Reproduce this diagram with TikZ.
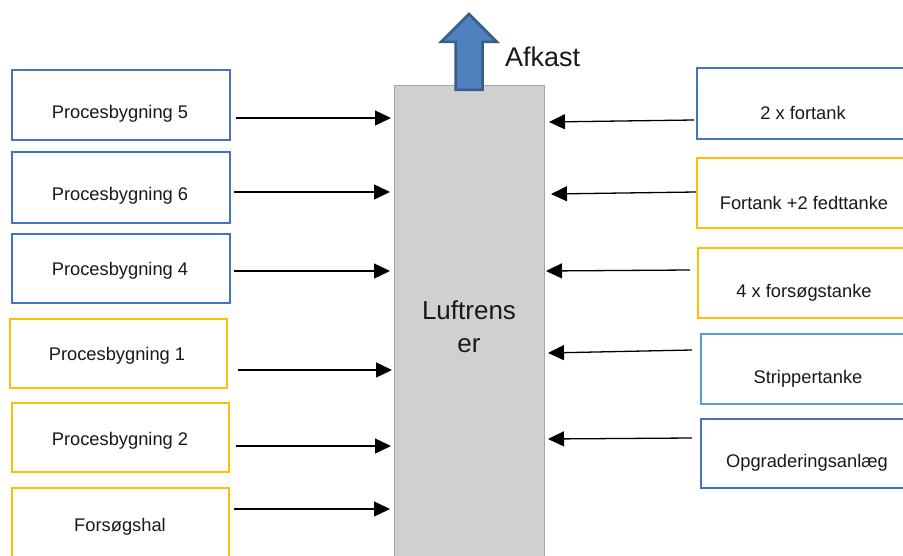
\documentclass[tikz,border=0pt]{standalone}
\usepackage{fontspec}
\setmainfont{Liberation Sans}
\usetikzlibrary{arrows.meta}
\definecolor{bblue}{HTML}{4472C4}
\definecolor{byel}{HTML}{FFC000}
\definecolor{lblue}{HTML}{5B9BD5}
\definecolor{lgray}{HTML}{D0D0D0}
\definecolor{dgray}{HTML}{A6A6A6}
\definecolor{afill}{HTML}{4F81BD}
\definecolor{aline}{HTML}{385D8A}
\tikzset{
  bx/.style={draw, line width=2pt, fill=white, anchor=north west, inner sep=0pt},
  lbl/.style={font=\fontsize{18.3}{21}\selectfont, inner sep=0pt, text=black!90},
  arr/.style={line width=1.3pt, -{Triangle[length=16pt,width=15pt]}},
}
\begin{document}
\begin{tikzpicture}[x=1pt,y=-1pt]
\useasboundingbox (0,0) rectangle (903,556);
\clip (0,0) rectangle (903,556);
% central box
\node[draw=dgray, fill=lgray, line width=1pt, anchor=north west, minimum width=150pt, minimum height=480pt, inner sep=0pt] (luft) at (394,85) {};
\node[font=\fontsize{26}{33}\selectfont, align=center, inner sep=0pt, text=black!90] (lt) at (469,327) {Luftrens\\er};
% up arrow
\draw[line width=2.5pt, draw=aline, fill=afill, line join=miter]
  (455.5,90) -- (455.5,42) -- (441,42) -- (469,14) -- (497,42) -- (482.5,42) -- (482.5,90) -- cycle;
\node[font=\fontsize{27}{30}\selectfont, anchor=west, inner sep=0pt, text=black!90] (afk) at (505,57) {Afkast};
% left boxes
\node[bx, draw=bblue, minimum width=218pt, minimum height=70pt] (p5) at (11,69) {};
\node[lbl] (t5) at (120,114) {Procesbygning 5};
\node[bx, draw=bblue, minimum width=218pt, minimum height=71pt] (p6) at (11,151) {};
\node[lbl] (t6) at (120,196) {Procesbygning 6};
\node[bx, draw=bblue, minimum width=218pt, minimum height=69pt] (p4) at (11,233) {};
\node[lbl] (t4) at (120,271) {Procesbygning 4};
\node[bx, draw=byel, minimum width=217pt, minimum height=69pt] (p1) at (9,318) {};
\node[lbl] (t1) at (117,356) {Procesbygning 1};
\node[bx, draw=byel, minimum width=217pt, minimum height=69pt] (p2) at (11,402) {};
\node[lbl] (t2) at (120,441) {Procesbygning 2};
\node[bx, draw=byel, minimum width=217pt, minimum height=90pt] (fh) at (11,487) {};
\node[lbl] (tf) at (120,527) {Forsøgshal};
% right boxes
\node[bx, draw=bblue, minimum width=230pt, minimum height=71pt] (r1) at (696,67) {};
\node[lbl] (s1) at (803,113) {2 x fortank};
\node[bx, draw=byel, minimum width=230pt, minimum height=70pt] (r2) at (696,157) {};
\node[lbl] (s2) at (804,203) {Fortank +2 fedttanke};
\node[bx, draw=byel, minimum width=230pt, minimum height=70pt] (r3) at (697,247) {};
\node[lbl] (s3) at (804,293) {4 x forsøgstanke};
\node[bx, draw=lblue, minimum width=230pt, minimum height=70pt] (r4) at (700,333) {};
\node[lbl] (s4) at (808,379) {Strippertanke};
\node[bx, draw=bblue, minimum width=230pt, minimum height=69pt] (r5) at (700,418) {};
\node[lbl] (s5) at (807,463) {Opgraderingsanlæg};
% left arrows
\draw[arr] ([shift={(5,13)}]p5.east) -- ([shift={(-3,13)}]p5.east -| luft.west);
\draw[arr] ([shift={(3,4.5)}]p6.east) -- ([shift={(-4,4.5)}]p6.east -| luft.west);
\draw[arr] ([shift={(3,2.5)}]p4.east) -- ([shift={(-4,2.5)}]p4.east -| luft.west);
\draw[arr] ([shift={(10,16.5)}]p1.east) -- ([shift={(-2,16.5)}]p1.east -| luft.west);
\draw[arr] ([shift={(6,8.5)}]p2.east) -- ([shift={(-3,8.5)}]p2.east -| luft.west);
\draw[arr] ([shift={(4,22)}]fh.north east) -- ([shift={(-4,22)}]fh.north east -| luft.west);
% right arrows
\draw[arr] ([shift={(-2,16.5)}]r1.west) -- ([shift={(4,18.5)}]r1.west -| luft.east);
\draw[arr] ([shift={(0,-1)}]r2.west) -- ([shift={(6,1)}]r2.west -| luft.east);
\draw[arr] ([shift={(-7,-13)}]r3.west) -- ([shift={(1,-12)}]r3.west -| luft.east);
\draw[arr] ([shift={(-8,-19)}]r4.west) -- ([shift={(3,-16)}]r4.west -| luft.east);
\draw[arr] ([shift={(-8,-15.5)}]r5.west) -- ([shift={(3,-14.5)}]r5.west -| luft.east);
\end{tikzpicture}
\end{document}
